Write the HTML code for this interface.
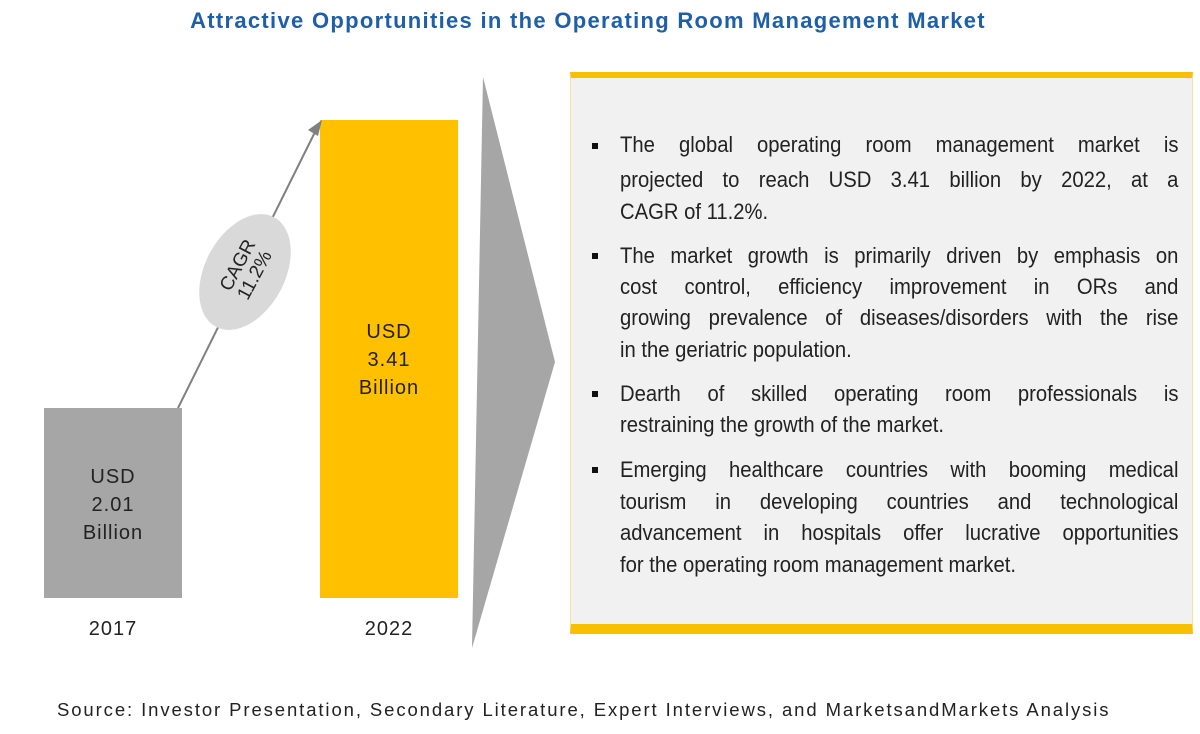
<!DOCTYPE html>
<html><head><style>
body{margin:0;width:1200px;height:734px;background:#fff;position:relative;overflow:hidden;font-family:"Liberation Sans",sans-serif}
.t{position:absolute;left:0;width:1176px;top:8px;text-align:center;color:#1f5fa8;font-weight:bold;font-size:22px;letter-spacing:1.3px}
.panel{position:absolute;left:570px;top:72px;width:623px;height:562px;background:#f1f1f1;border-top:6px solid #f8c000;border-bottom:10px solid #f8c000;box-sizing:border-box;border-left:1px solid #f3e3a0;border-right:1px solid #f3e3a0}
.ln{position:absolute;left:620px;width:607px;font-size:22px;line-height:24px;color:#222;text-align:justify;text-align-last:justify;white-space:nowrap;transform:scaleX(0.92);transform-origin:0 0}
.ln.e{text-align-last:left}
.b{position:absolute;left:592px;width:6px;height:6px;background:#111}
.lbl{position:absolute;text-align:center;font-size:20px;line-height:28px;color:#222;letter-spacing:1px}
.src{position:absolute;left:57px;top:699px;font-size:18.5px;color:#222;letter-spacing:1.9px;white-space:nowrap}
</style></head><body>
<div class="t">Attractive Opportunities in the Operating Room Management Market</div>
<svg width="1200" height="734" style="position:absolute;left:0;top:0">
<rect x="44" y="408" width="138" height="190" fill="#a6a6a6"/>
<rect x="320" y="120" width="138" height="478" fill="#ffc000"/>
<line x1="178" y1="408" x2="316" y2="130" stroke="#808080" stroke-width="2"/>
<polygon points="322,120 308,130 318,136" fill="#808080"/>
<ellipse cx="245" cy="272" rx="40" ry="62" transform="rotate(28 245 272)" fill="#d9d9d9"/>
<text x="243" y="268" transform="rotate(-62 243 268)" text-anchor="middle" font-size="19" fill="#222">CAGR</text>
<text x="260" y="278" transform="rotate(-62 260 278)" text-anchor="middle" font-size="19" fill="#222">11.2%</text>
<polygon points="483,77 555,362 472,648" fill="#a6a6a6"/>
</svg>
<div class="lbl" style="left:44px;width:138px;top:463px">USD<br>2.01<br>Billion</div>
<div class="lbl" style="left:320px;width:138px;top:318px">USD<br>3.41<br>Billion</div>
<div class="lbl" style="left:44px;width:138px;top:615px">2017</div>
<div class="lbl" style="left:320px;width:138px;top:615px">2022</div>
<div class="panel"></div>
<div class="b" style="top:143px"></div>
<div class="ln" style="top:133px">The global operating room management market is</div>
<div class="ln" style="top:168px">projected to reach USD 3.41 billion by 2022, at a</div>
<div class="ln e" style="top:200px">CAGR of 11.2%.</div>
<div class="b" style="top:253px"></div>
<div class="ln" style="top:244px">The market growth is primarily driven by emphasis on</div>
<div class="ln" style="top:275px">cost control, efficiency improvement in ORs and</div>
<div class="ln" style="top:306px">growing prevalence of diseases/disorders with the rise</div>
<div class="ln e" style="top:338px">in the geriatric population.</div>
<div class="b" style="top:391px"></div>
<div class="ln" style="top:382px">Dearth of skilled operating room professionals is</div>
<div class="ln e" style="top:413px">restraining the growth of the market.</div>
<div class="b" style="top:467px"></div>
<div class="ln" style="top:458px">Emerging healthcare countries with booming medical</div>
<div class="ln" style="top:490px">tourism in developing countries and technological</div>
<div class="ln" style="top:521px">advancement in hospitals offer lucrative opportunities</div>
<div class="ln e" style="top:553px">for the operating room management market.</div>
<div class="src">Source: Investor Presentation, Secondary Literature, Expert Interviews, and MarketsandMarkets Analysis</div>
</body></html>
